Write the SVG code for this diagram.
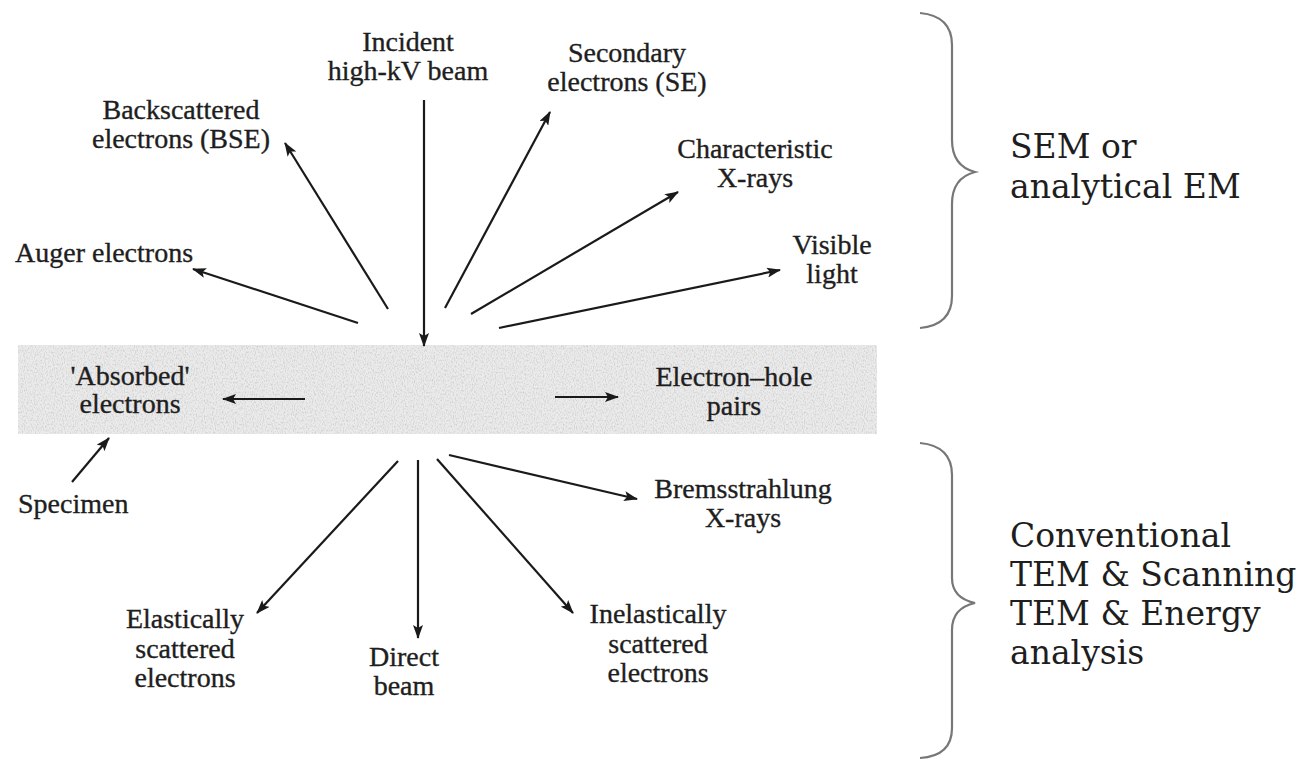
<svg xmlns="http://www.w3.org/2000/svg" width="1312" height="761" viewBox="0 0 1312 761">
<style>
.lbl{font-family:"Liberation Serif","Times New Roman",serif;font-size:28px;fill:#1e1e1e;stroke:#1e1e1e;stroke-width:0.35;}
.c{text-anchor:middle;}
.big{font-family:"DejaVu Serif","Liberation Serif",serif;font-size:33px;fill:#1e1e1e;}
.arr{stroke:#1a1a1a;stroke-width:2.2;fill:none;marker-end:url(#ah);}
.brace{stroke:#777;stroke-width:2.2;fill:none;}
</style>
<defs>
<marker id="ah" viewBox="0 0 14 10" refX="13" refY="5" markerWidth="14" markerHeight="10" markerUnits="userSpaceOnUse" orient="auto">
<path d="M0,0 L14,5 L0,10 L3,5 z" fill="#1a1a1a"/>
</marker>
<filter id="noise" x="0" y="0" width="100%" height="100%">
<feTurbulence type="fractalNoise" baseFrequency="0.9 0.5" numOctaves="2" seed="3" result="t"/>
<feColorMatrix in="t" type="matrix" values="0 0 0 0 0.6  0 0 0 0 0.6  0 0 0 0 0.6  0 0 0 -2.2 1.25" result="n"/>
<feComposite in="n" in2="SourceGraphic" operator="in"/>
</filter>
</defs>
<rect width="1312" height="761" fill="#ffffff"/>

<g id="specimen">
<rect x="18" y="345" width="859" height="89" fill="#ebebeb"/>
<rect x="18" y="345" width="859" height="89" fill="#ebebeb" filter="url(#noise)"/>
</g>

<g id="connectors">
<line class="arr" x1="424" y1="100" x2="424" y2="346"/>
<line class="arr" x1="388" y1="309" x2="285" y2="143"/>
<line class="arr" x1="358" y1="323" x2="193" y2="269"/>
<line class="arr" x1="445" y1="308" x2="550" y2="112"/>
<line class="arr" x1="471" y1="314" x2="678" y2="192"/>
<line class="arr" x1="499" y1="328" x2="780" y2="270"/>
<line class="arr" x1="305" y1="399" x2="223" y2="399"/>
<line class="arr" x1="555" y1="397" x2="618" y2="397"/>
<line class="arr" x1="72" y1="482" x2="109" y2="438"/>
<line class="arr" x1="398" y1="461" x2="257" y2="613"/>
<line class="arr" x1="418" y1="460" x2="418" y2="638"/>
<line class="arr" x1="437" y1="459" x2="573" y2="613"/>
<line class="arr" x1="449" y1="455" x2="637" y2="499"/>
</g>

<g id="n-incident"><text class="lbl c" x="408" y="51">Incident</text><text class="lbl c" x="408" y="80">high-kV beam</text></g>
<g id="n-bse"><text class="lbl c" x="181" y="119">Backscattered</text><text class="lbl c" x="181" y="148">electrons (BSE)</text></g>
<g id="n-auger"><text class="lbl" x="15" y="262">Auger electrons</text></g>
<g id="n-se"><text class="lbl c" x="627" y="62">Secondary</text><text class="lbl c" x="627" y="91">electrons (SE)</text></g>
<g id="n-char"><text class="lbl c" x="755" y="158">Characteristic</text><text class="lbl c" x="755" y="187">X-rays</text></g>
<g id="n-visible"><text class="lbl c" x="832" y="254">Visible</text><text class="lbl c" x="832" y="283">light</text></g>
<g id="n-absorbed"><text class="lbl c" x="130" y="385">'Absorbed'</text><text class="lbl c" x="130" y="413">electrons</text></g>
<g id="n-ehp"><text class="lbl c" x="734" y="386">Electron–hole</text><text class="lbl c" x="734" y="415">pairs</text></g>
<g id="n-specimen"><text class="lbl" x="18" y="513">Specimen</text></g>
<g id="n-elastic"><text class="lbl c" x="185" y="628">Elastically</text><text class="lbl c" x="185" y="658">scattered</text><text class="lbl c" x="185" y="687">electrons</text></g>
<g id="n-direct"><text class="lbl c" x="404" y="666">Direct</text><text class="lbl c" x="404" y="695">beam</text></g>
<g id="n-inelastic"><text class="lbl c" x="658" y="623">Inelastically</text><text class="lbl c" x="658" y="653">scattered</text><text class="lbl c" x="658" y="682">electrons</text></g>
<g id="n-brems"><text class="lbl c" x="743" y="498">Bremsstrahlung</text><text class="lbl c" x="743" y="527">X-rays</text></g>

<g id="brace-sem">
<path class="brace" d="M920,13 Q952,16 952,45 L952,140 Q952,166 975,172 Q952,178 952,204 L952,296 Q952,325 920,328"/>
<text class="big" x="1010" y="158">SEM or</text>
<text class="big" x="1010" y="198">analytical EM</text>
</g>
<g id="brace-tem">
<path class="brace" d="M920,443 Q952,446 952,475 L952,578 Q952,598 975,603 Q952,608 952,630 L952,728 Q952,756 920,758"/>
<text class="big" x="1010" y="547">Conventional</text>
<text class="big" x="1010" y="586">TEM &amp; Scanning</text>
<text class="big" x="1010" y="625">TEM &amp; Energy</text>
<text class="big" x="1010" y="664">analysis</text>
</g>
</svg>
